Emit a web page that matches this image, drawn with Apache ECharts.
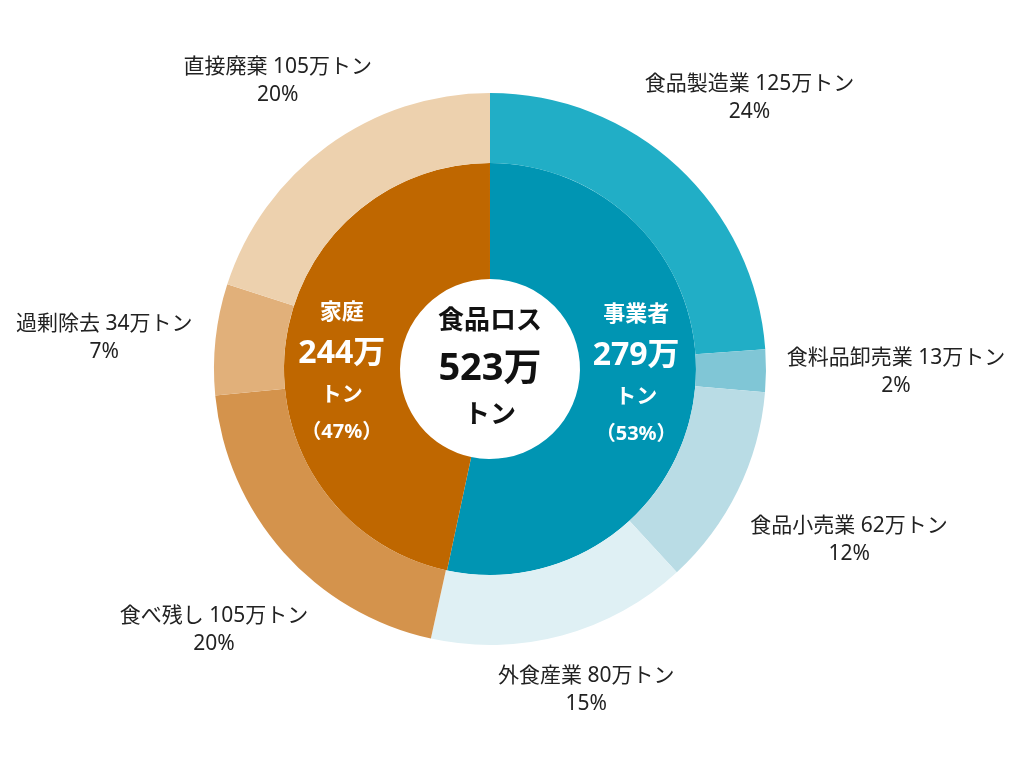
<!DOCTYPE html>
<html>
<head>
<meta charset="utf-8">
<script src="https://cdn.jsdelivr.net/npm/echarts@6/dist/echarts.min.js"></script>
<style>html,body{margin:0;padding:0;background:#fff}#c{width:1024px;height:768px}</style>
</head>
<body>
<div id="c"></div>
<script>
// ---- data ----
const innerNames = ['事業者', '家庭'];
const innerValues = [279, 244];
const outerNames = ['食品製造業', '食料品卸売業', '食品小売業', '外食産業', '食べ残し', '過剰除去', '直接廃棄'];
const outerValues = [125, 13, 62, 80, 105, 34, 105];
const centerTitle = '食品ロス';
const unit = '万';
const ton = 'トン';

// ---- styles ----
const innerColors = ['#0095b3', '#bf6700'];
const outerColors = ['#21aec6', '#80c6d6', '#b9dce5', '#dff0f4', '#d4934c', '#e1b07a', '#edd1ae'];
const outerLabelShift = [[0, 8], [25, 1], [17, 3], [-3, -47], [9, 8], [-7, 10], [12, 20]];
const innerLabelShift = [[-4, -12], [2, 18]];

const total = innerValues.reduce((a, b) => a + b, 0);
const pct = v => Math.round(v / total * 100);
const FONT = '"Noto Sans", "Noto Sans CJK JP", sans-serif';
const center = ['47.85%', '48.05%'];

const chart = echarts.init(document.getElementById('c'), null, {renderer: 'canvas'});
chart.setOption({
  animation: false,
  backgroundColor: '#fff',
  textStyle: {fontFamily: FONT},
  series: [
    {
      type: 'pie', name: 'center', center, radius: [0, 90], silent: true,
      data: [{name: centerTitle, value: total, itemStyle: {color: '#fff'}}],
      label: {
        show: true, position: 'center',
        formatter: p => '{a|' + centerTitle + '}\n{b|' + p.value + unit + '}\n{a|' + ton + '}',
        rich: {
          a: {fontFamily: FONT, fontSize: 26, fontWeight: 'bold', color: '#111', lineHeight: 47, align: 'center'},
          b: {fontFamily: FONT, fontSize: 38, fontWeight: 'bold', color: '#111', lineHeight: 47, align: 'center'}
        }
      },
      labelLine: {show: false}, emphasis: {disabled: true}
    },
    {
      type: 'pie', name: 'inner', center, radius: [90, 206], silent: true,
      startAngle: 90, clockwise: true,
      data: innerNames.map((n, i) => ({name: n, value: innerValues[i], itemStyle: {color: innerColors[i]}})),
      label: {
        show: true, position: 'inside',
        formatter: p => '{a|' + p.name + '}\n{b|' + p.value + unit + '}\n{c|' + ton + '}\n{d|（' + pct(p.value) + '%）}',
        rich: {
          a: {fontFamily: FONT, fontSize: 22, fontWeight: 'bold', color: '#fff', lineHeight: 40, align: 'center'},
          b: {fontFamily: FONT, fontSize: 32, fontWeight: 'bold', color: '#fff', lineHeight: 42, align: 'center'},
          c: {fontFamily: FONT, fontSize: 21, fontWeight: 'bold', color: '#fff', lineHeight: 40, align: 'center'},
          d: {fontFamily: FONT, fontSize: 20, fontWeight: 'bold', color: '#fff', lineHeight: 34, align: 'center'}
        }
      },
      labelLayout: p => ({dx: innerLabelShift[p.dataIndex][0], dy: innerLabelShift[p.dataIndex][1]}),
      labelLine: {show: false}, emphasis: {disabled: true}
    },
    {
      type: 'pie', name: 'outer', center, radius: [206, 276], silent: true,
      startAngle: 90, clockwise: true,
      data: outerNames.map((n, i) => ({name: n, value: outerValues[i], itemStyle: {color: outerColors[i]}})),
      label: {show: false}, labelLine: {show: false}, emphasis: {disabled: true}
    },
    {
      type: 'pie', name: 'outerLabels', center, radius: [280, 476], silent: true,
      startAngle: 90, clockwise: true,
      data: outerNames.map((n, i) => ({name: n, value: outerValues[i]})),
      itemStyle: {color: 'rgba(0,0,0,0)'},
      label: {
        show: true, position: 'inside',
        formatter: p => '{a|' + p.name + ' ' + p.value + unit + ton + '}\n{a|' + pct(p.value) + '%}',
        rich: {
          a: {fontFamily: FONT, fontSize: 21, color: '#222', lineHeight: 28, align: 'center'}
        }
      },
      labelLayout: p => ({dx: outerLabelShift[p.dataIndex][0], dy: outerLabelShift[p.dataIndex][1]}),
      labelLine: {show: false}, emphasis: {disabled: true}
    }
  ]
});
</script>
</body>
</html>
